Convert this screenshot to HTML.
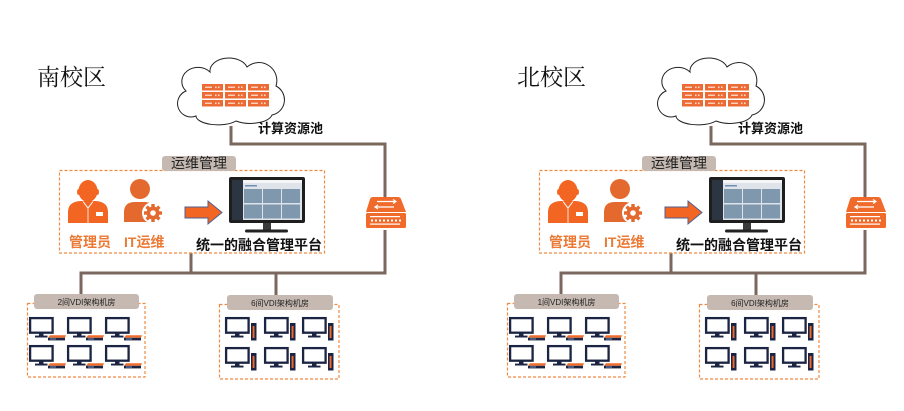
<!DOCTYPE html>
<html><head><meta charset="utf-8"><style>
html,body{margin:0;padding:0;background:#fff;}
svg{display:block;}
.cn{font-family:"Liberation Sans","Noto Sans CJK SC",sans-serif;}
.sf{font-family:"Liberation Serif","Noto Serif CJK SC",serif;}
</style></head><body>
<svg width="904" height="411" viewBox="0 0 904 411" xmlns="http://www.w3.org/2000/svg">
<defs>
<g id="mon">
  <rect x="1.1" y="1.1" width="22.5" height="14.6" fill="#fff" stroke="#1b2442" stroke-width="2.3"/>
  <rect x="10" y="16.5" width="4.5" height="2.5" fill="#1b2442"/>
  <rect x="6" y="18.6" width="12.5" height="1.9" fill="#1b2442"/>
</g>
<g id="tc">
  <polygon points="21,18.3 37,18.3 36,20.8 19,20.8" fill="#f06a2a"/>
  <rect x="19" y="20.8" width="17" height="2.6" fill="#1b2442"/>
  <rect x="21" y="21.4" width="6" height="1.2" fill="#6b7fa3"/>
</g>
<g id="tw">
  <rect x="26" y="6" width="5.5" height="17.5" fill="#1b2442"/>
  <rect x="27.6" y="9" width="1.9" height="12" fill="#f06a2a"/>
</g>
<g id="srv">
  <rect x="0" y="0" width="21" height="6.5" fill="#ec6b35"/>
  <rect x="3" y="2.6" width="7" height="1.3" fill="#fbd9c7"/>
  <rect x="13" y="2.5" width="1.6" height="1.6" fill="#fbd9c7"/>
  <rect x="16" y="2.5" width="1.6" height="1.6" fill="#fbd9c7"/>
</g>
<g id="campus">
  <g stroke="#7a675e" stroke-width="3" fill="none">
    <polyline points="231,126 231,144 385,144 385,197"/>
    <line x1="385" y1="230" x2="385" y2="274"/>
    <line x1="79.5" y1="273" x2="386.5" y2="273"/>
    <line x1="191" y1="253" x2="191" y2="273"/>
    <line x1="81" y1="273" x2="81" y2="294"/>
    <line x1="276" y1="273" x2="276" y2="295"/>
  </g>
  <path d="M196,116 A12.3 12.3 0 0 1 186,91 A16 14 0 0 1 210,72 A19 13 0 0 1 247,67 A18 18 0 0 1 276,86 A15.5 15.5 0 0 1 272,115 A22 10 0 0 1 236,121 A22 9 0 0 1 196,116 Z" fill="#fff" stroke="#222" stroke-width="1"/>
  <use href="#srv" x="202" y="84"/><use href="#srv" x="225" y="84"/><use href="#srv" x="248" y="84"/>
  <use href="#srv" x="202" y="92"/><use href="#srv" x="225" y="92"/><use href="#srv" x="248" y="92"/>
  <use href="#srv" x="202" y="100"/><use href="#srv" x="225" y="100"/><use href="#srv" x="248" y="100"/>
  <rect x="59.5" y="170.5" width="265" height="82.5" fill="none" stroke="#f08a40" stroke-width="1.2" stroke-dasharray="3,2"/>
  <rect x="162" y="156" width="74" height="15" rx="3" fill="#c5b9b2"/>
  <ellipse cx="88" cy="191" rx="9.5" ry="11" fill="#f26522"/>
  <ellipse cx="78.6" cy="192" rx="1.6" ry="3" fill="#f26522"/>
  <ellipse cx="97.4" cy="192" rx="1.6" ry="3" fill="#f26522"/>
  <path d="M68,223 L68,212 Q68,202 80,201 L96,201 Q108,202 108,212 L108,223 Z" fill="#f26522"/>
  <path d="M83,201.5 L88,208 L93,201.5" fill="none" stroke="#fff" stroke-width="1"/>
  <line x1="88" y1="208" x2="88" y2="223" stroke="#fff" stroke-width="0.8"/>
  <rect x="96" y="212" width="7" height="4" fill="#fff"/>
  <circle cx="140" cy="189" r="10" fill="#e4692f"/>
  <path d="M124,222 L124,212 Q124,202 135,202 L146,202 Q154,203 156,209 L156,222 Z" fill="#e4692f"/>
  <circle cx="153" cy="213" r="11" fill="#fff"/>
  <g fill="#e4692f">
    <circle cx="153" cy="213" r="6.5"/>
    <rect x="151.3" y="204" width="3.4" height="18"/>
    <rect x="144" y="211.3" width="18" height="3.4"/>
    <rect x="151.3" y="204" width="3.4" height="18" transform="rotate(45 153 213)"/>
    <rect x="151.3" y="204" width="3.4" height="18" transform="rotate(-45 153 213)"/>
  </g>
  <circle cx="153" cy="213" r="2.8" fill="#fff"/>
  <polygon points="185,207 208,207 208,201 222,212.5 208,224 208,218 185,218" fill="#f26522" stroke="#506090" stroke-width="1"/>
  <rect x="229" y="177" width="76" height="46" rx="2" fill="#1e1e1e"/>
  <rect x="232" y="180" width="70" height="40" fill="#dfe4ea"/>
  <rect x="232" y="180" width="11" height="40" fill="#2c3642"/>
  <rect x="243" y="180" width="59" height="3" fill="#f6f6f6"/>
  <rect x="245" y="185" width="12" height="1.5" fill="#6f8fb8"/>
  <g fill="#7f98ae">
    <rect x="244" y="189" width="18" height="14"/><rect x="263" y="189" width="18" height="14"/><rect x="282" y="189" width="18" height="14"/>
    <rect x="244" y="204.5" width="18" height="14"/><rect x="263" y="204.5" width="18" height="14"/><rect x="282" y="204.5" width="18" height="14"/>
  </g>
  <rect x="263" y="223" width="8" height="7" fill="#3a3a3a"/>
  <rect x="245" y="229.5" width="43" height="3" rx="1.5" fill="#222"/>
  <path d="M373,197 L398,197 Q400,197 401,199 L406,212 L366,212 L370,199 Q371,197 373,197 Z" fill="#f06a2c"/>
  <rect x="366" y="213" width="40" height="15" rx="1.5" fill="#f06a2c"/>
  <g stroke="#fff" stroke-width="1.2" fill="none">
    <line x1="377" y1="201.5" x2="396" y2="201.5"/><polyline points="393,199.5 396,201.5 393,203.5"/>
    <line x1="375" y1="207" x2="394" y2="207"/><polyline points="378,205 375,207 378,209"/>
  </g>
  <g fill="#fff">
    <rect x="370" y="216" width="30" height="1.2"/>
    <rect x="371" y="219.5" width="2" height="2"/><rect x="375" y="219.5" width="2" height="2"/><rect x="379" y="219.5" width="2" height="2"/><rect x="383" y="219.5" width="2" height="2"/><rect x="387" y="219.5" width="2" height="2"/><rect x="391" y="219.5" width="2" height="2"/><rect x="395" y="219.5" width="2" height="2"/><rect x="399" y="219.5" width="2" height="2"/>
    <rect x="370" y="223.5" width="30" height="1.2"/>
  </g>
  <rect x="27.5" y="303.5" width="117.5" height="73.5" fill="none" stroke="#f08a40" stroke-width="1.2" stroke-dasharray="3,2"/>
  <rect x="34" y="294" width="105" height="15" rx="3" fill="#c5b9b2"/>
  <rect x="219.5" y="304.5" width="119.5" height="74.5" fill="none" stroke="#f08a40" stroke-width="1.2" stroke-dasharray="3,2"/>
  <rect x="227" y="295" width="106" height="15" rx="3" fill="#c5b9b2"/>
  <use href="#mon" x="29" y="317"/><use href="#tc" x="29" y="317"/>
  <use href="#mon" x="67" y="317"/><use href="#tc" x="67" y="317"/>
  <use href="#mon" x="105" y="317"/><use href="#tc" x="105" y="317"/>
  <use href="#mon" x="29" y="345"/><use href="#tc" x="29" y="345"/>
  <use href="#mon" x="67" y="345"/><use href="#tc" x="67" y="345"/>
  <use href="#mon" x="105" y="345"/><use href="#tc" x="105" y="345"/>
  <use href="#mon" x="225" y="317"/><use href="#tw" x="225" y="317"/>
  <use href="#mon" x="264" y="317"/><use href="#tw" x="264" y="317"/>
  <use href="#mon" x="302" y="317"/><use href="#tw" x="302" y="317"/>
  <use href="#mon" x="225" y="347"/><use href="#tw" x="225" y="347"/>
  <use href="#mon" x="264" y="347"/><use href="#tw" x="264" y="347"/>
  <use href="#mon" x="302" y="347"/><use href="#tw" x="302" y="347"/>
</g>
</defs>

<use href="#campus" x="0" y="0"/>
<use href="#campus" x="480" y="0"/>

<text x="37" y="85" class="sf" font-size="23" fill="#111">南校区</text>
<text x="258" y="133" class="cn" font-size="13" font-weight="bold" fill="#111">计算资源池</text>
<text x="171" y="168" class="cn" font-size="14" fill="#222">运维管理</text>
<text x="69" y="247" class="cn" font-size="14" font-weight="bold" fill="#ec7a35">管理员</text>
<text x="124" y="247" class="cn" font-size="14" font-weight="bold" fill="#ec7a35">IT运维</text>
<text x="196" y="250" class="cn" font-size="14" font-weight="bold" fill="#111">统一的融合管理平台</text>
<text x="86.5" y="305" class="cn" font-size="8" fill="#222" text-anchor="middle">2间VDI架构机房</text>
<text x="280" y="306" class="cn" font-size="8" fill="#222" text-anchor="middle">6间VDI架构机房</text>

<text x="517" y="85" class="sf" font-size="23" fill="#111">北校区</text>
<text x="738" y="133" class="cn" font-size="13" font-weight="bold" fill="#111">计算资源池</text>
<text x="651" y="168" class="cn" font-size="14" fill="#222">运维管理</text>
<text x="549" y="247" class="cn" font-size="14" font-weight="bold" fill="#ec7a35">管理员</text>
<text x="604" y="247" class="cn" font-size="14" font-weight="bold" fill="#ec7a35">IT运维</text>
<text x="676" y="250" class="cn" font-size="14" font-weight="bold" fill="#111">统一的融合管理平台</text>
<text x="566.5" y="305" class="cn" font-size="8" fill="#222" text-anchor="middle">1间VDI架构机房</text>
<text x="760" y="306" class="cn" font-size="8" fill="#222" text-anchor="middle">6间VDI架构机房</text>
</svg>
</body></html>
